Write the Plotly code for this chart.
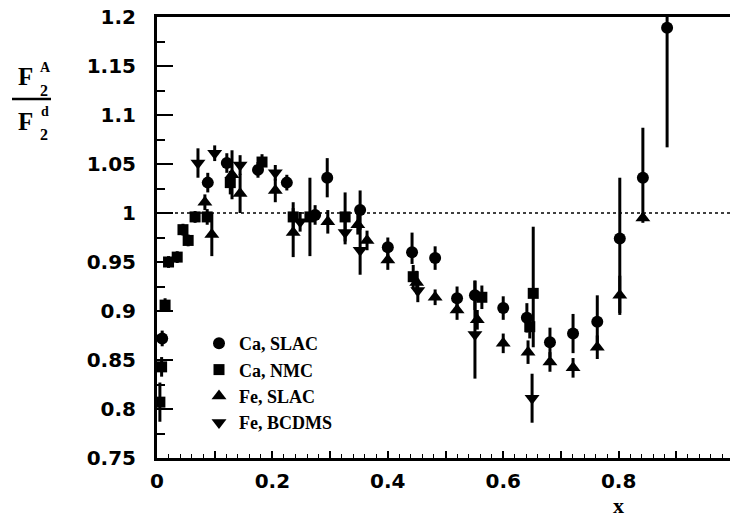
import plotly.graph_objects as go

# ---------------- data ----------------
ca_slac_x = [0.009, 0.088, 0.121, 0.175, 0.225, 0.274, 0.295, 0.352, 0.400, 0.442, 0.482,
             0.520, 0.551, 0.600, 0.641, 0.681, 0.721, 0.763, 0.802, 0.842, 0.884]
ca_slac_y = [0.872, 1.031, 1.051, 1.044, 1.031, 0.998, 1.036, 1.003, 0.965, 0.960, 0.954,
             0.913, 0.916, 0.903, 0.893, 0.868, 0.877, 0.889, 0.974, 1.036, 1.189]
ca_slac_ep = [0.008, 0.010, 0.010, 0.008, 0.008, 0.010, 0.020, 0.020, 0.010, 0.020, 0.012,
              0.012, 0.015, 0.012, 0.015, 0.015, 0.020, 0.027, 0.062, 0.051, 0.020]
ca_slac_em = [0.008, 0.010, 0.010, 0.008, 0.008, 0.010, 0.020, 0.020, 0.010, 0.012, 0.012,
              0.012, 0.015, 0.012, 0.015, 0.015, 0.020, 0.027, 0.076, 0.040, 0.122]

ca_nmc_x = [0.005, 0.008, 0.014, 0.020, 0.035, 0.045, 0.054, 0.066, 0.087, 0.127, 0.182,
            0.236, 0.265, 0.326, 0.444, 0.563, 0.646, 0.652]
ca_nmc_y = [0.807, 0.843, 0.906, 0.950, 0.955, 0.983, 0.972, 0.996, 0.996, 1.031, 1.052,
            0.996, 0.996, 0.996, 0.935, 0.914, 0.884, 0.918]
ca_nmc_ep = [0.020, 0.010, 0.007, 0.006, 0.006, 0.006, 0.006, 0.006, 0.008, 0.012, 0.008,
             0.015, 0.040, 0.025, 0.012, 0.012, 0.012, 0.068]
ca_nmc_em = [0.020, 0.010, 0.007, 0.006, 0.006, 0.006, 0.006, 0.006, 0.008, 0.012, 0.008,
             0.015, 0.040, 0.025, 0.012, 0.012, 0.012, 0.055]

fe_slac_x = [0.083, 0.095, 0.130, 0.144, 0.205, 0.236, 0.296, 0.348, 0.364, 0.400, 0.450,
             0.482, 0.520, 0.555, 0.600, 0.643, 0.681, 0.721, 0.763, 0.802, 0.842]
fe_slac_y = [1.011, 0.978, 1.039, 1.020, 1.023, 0.980, 0.991, 0.988, 0.972, 0.952, 0.929,
             0.914, 0.901, 0.891, 0.867, 0.858, 0.848, 0.842, 0.863, 0.916, 0.995]
fe_slac_ep = [0.008, 0.022, 0.025, 0.020, 0.012, 0.025, 0.012, 0.010, 0.010, 0.010, 0.012,
              0.008, 0.010, 0.010, 0.010, 0.012, 0.010, 0.010, 0.012, 0.020, 0.005]
fe_slac_em = fe_slac_ep

fe_bcdms_x = [0.071, 0.100, 0.144, 0.205, 0.248, 0.326, 0.352, 0.452, 0.551, 0.650]
fe_bcdms_y = [1.051, 1.061, 1.049, 1.041, 0.991, 0.980, 0.962, 0.921, 0.876, 0.811]
fe_bcdms_ep = [0.015, 0.008, 0.010, 0.008, 0.010, 0.012, 0.025, 0.012, 0.055, 0.025]
fe_bcdms_em = [0.015, 0.008, 0.010, 0.008, 0.010, 0.012, 0.025, 0.012, 0.045, 0.025]

x_tickvals = [0, 0.1, 0.2, 0.3, 0.4, 0.5, 0.6, 0.7, 0.8, 0.9]
x_ticktext = ["0", "", "0.2", "", "0.4", "", "0.6", "", "0.8", ""]
y_tickvals = [0.75, 0.8, 0.85, 0.9, 0.95, 1.0, 1.05, 1.1, 1.15, 1.2]
y_ticktext = ["0.75", "0.8", "0.85", "0.9", "0.95", "1", "1.05", "1.1", "1.15", "1.2"]

series = [
    ("Ca, SLAC", ca_slac_x, ca_slac_y, ca_slac_ep, ca_slac_em, "circle", 12),
    ("Ca, NMC", ca_nmc_x, ca_nmc_y, ca_nmc_ep, ca_nmc_em, "square", 11),
    ("Fe, SLAC", fe_slac_x, fe_slac_y, fe_slac_ep, fe_slac_em, "triangle-up", 13),
    ("Fe, BCDMS", fe_bcdms_x, fe_bcdms_y, fe_bcdms_ep, fe_bcdms_em, "triangle-down", 13),
]

# ---------------- layout geometry ----------------
W, H = 730, 519
L, R, T, B = 157, 0, 17, 61
PW, PH = W - L - R, H - T - B


def px(xp):
    return (xp - L) / PW


def py(yp):
    return (H - B - yp) / PH


fig = go.Figure()
for name, xs, ys, ep, em, sym, sz in series:
    fig.add_trace(go.Scatter(
        x=xs, y=ys, mode="markers", name=name, cliponaxis=False,
        marker=dict(symbol=sym, size=sz, color="black"),
        error_y=dict(type="data", symmetric=False, array=ep, arrayminus=em,
                     thickness=3, width=0, color="black"),
    ))

tickfont = dict(family="DejaVu Sans", size=20, color="black", weight="bold")
serif = "Liberation Serif"

fig.update_layout(
    width=W, height=H,
    margin=dict(l=L, r=R, t=T, b=B, pad=0, autoexpand=False),
    paper_bgcolor="white", plot_bgcolor="white",
    showlegend=True,
    legend=dict(x=px(199), y=py(325), xanchor="left", yanchor="top",
                bgcolor="rgba(0,0,0,0)", borderwidth=0,
                font=dict(family=serif, size=18, color="black", weight="bold"),
                itemwidth=30, tracegroupgap=0),
    xaxis=dict(range=[0, 0.993], showgrid=False, zeroline=False, automargin=False,
               showline=True, linewidth=3, linecolor="black", mirror=True,
               ticks="inside", ticklen=7, tickwidth=1.5, tickcolor="black",
               tickvals=x_tickvals, ticktext=x_ticktext, tickfont=tickfont,
               ticklabelstandoff=3,
               minor=dict(dtick=0.02, ticks="inside", ticklen=4, tickwidth=1.2,
                          tickcolor="black", showgrid=False)),
    yaxis=dict(range=[0.75, 1.2], showgrid=False, zeroline=False, automargin=False,
               showline=True, linewidth=3, linecolor="black",
               ticks="inside", ticklen=16, tickwidth=1.8, tickcolor="black",
               tickvals=y_tickvals, ticktext=y_ticktext, tickfont=tickfont,
               ticklabelstandoff=14,
               minor=dict(dtick=0.025, tick0=0.75, ticks="inside", ticklen=8,
                          tickwidth=1.5, tickcolor="black", showgrid=False)),
)

# dotted reference line at 1
fig.add_shape(type="line", xref="paper", yref="y", x0=0, x1=1, y0=1, y1=1,
              line=dict(color="black", width=1.5, dash="3px,3px"), layer="below")

# y-axis label: F2^A / F2^d
lab = dict(xref="paper", yref="paper", showarrow=False, xanchor="center", yanchor="middle")
fig.add_annotation(x=px(25), y=py(76), text="<b>F</b>", font=dict(family=serif, size=25, color="black"), **lab)
fig.add_annotation(x=px(45), y=py(67), text="<b>A</b>", font=dict(family=serif, size=14, color="black"), **lab)
fig.add_annotation(x=px(44), y=py(90), text="<b>2</b>", font=dict(family=serif, size=16, color="black"), **lab)
fig.add_annotation(x=px(25), y=py(121), text="<b>F</b>", font=dict(family=serif, size=25, color="black"), **lab)
fig.add_annotation(x=px(45), y=py(111), text="<b>d</b>", font=dict(family=serif, size=14, color="black"), **lab)
fig.add_annotation(x=px(44), y=py(134), text="<b>2</b>", font=dict(family=serif, size=16, color="black"), **lab)
fig.add_shape(type="line", xref="paper", yref="paper", x0=px(12), x1=px(51), y0=py(99), y1=py(99),
              line=dict(color="black", width=2.5))

# x-axis title
fig.add_annotation(x=px(618), y=py(506), text="<b>x</b>", font=dict(family=serif, size=22, color="black"), **lab)

fig.write_html("out.html", config={"displayModeBar": False},
               post_script="document.body.style.margin='0';document.body.style.padding='0';")
